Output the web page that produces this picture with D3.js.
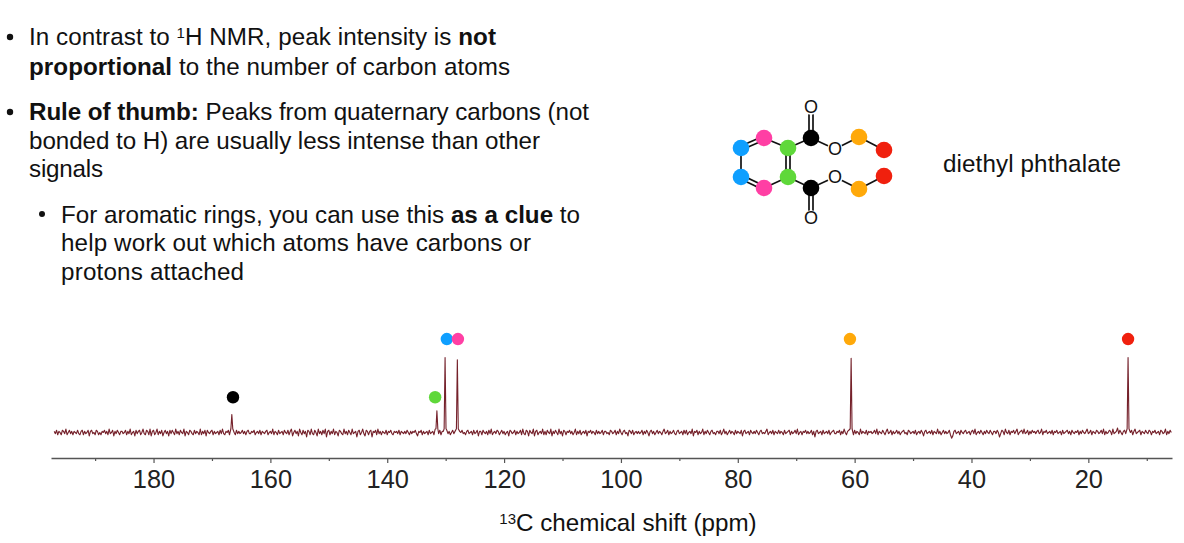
<!DOCTYPE html>
<html lang="en">
<head>
<meta charset="UTF-8">
<title>13C NMR - diethyl phthalate</title>
<script src="https://d3js.org/d3.v7.min.js"></script>
<style>
    html, body { margin: 0; padding: 0; background: #fff; }
    svg { display: block; font-family: "Liberation Sans", Arial, sans-serif; }
</style>
</head>
<body>
<svg id="chart" width="1184" height="543">
    <defs><filter id="soft"><feGaussianBlur stdDeviation="0.3"></feGaussianBlur></filter></defs>
</svg>
<script>
// Spectrum data
const majorTicks = [180, 160, 140, 120, 100, 80, 60, 40, 20];
const minorTicks = [190, 170, 150, 130, 110, 90, 70, 50, 30, 10];
const peakPpm = [166.6, 131.5, 130.1, 128.0, 60.6, 13.2];
const peakHeight = [24, 29, 100, 97, 99, 100];
const dotPpm = [166.4, 131.8, 129.8, 127.9, 60.8, 13.2];
const dotLevel = [47, 47, 124.6, 124.6, 124.6, 124.6];
const dotColors = ["#000000", "#5fd83a", "#0f9fff", "#ff3fa4", "#ffa90a", "#f0200e"];
const noiseStart = 197.0;
const noiseStep = 0.2;
const noiseUnit = 1.5; // one noise count in intensity units
const noise = [
    1, -1, 2, -2, 1, 0, -2, 2, 1, -1, 3, -2, 0, 2, -1, 1, -2, 1, 0, -1,
    2, -1, -2, 1, 2, -2, 1, -1, 0, 2, -3, 1, 2, -1, 0, -2, 2, 1, -2, 0,
    -2, 1, 0, 2, -1, 1, -2, 3, -1, 0, 2, -3, 1, -1, 2, 0, -2, 1, 1, -1,
    0, 2, -2, 1, -1, 3, -2, 0, 1, -3, 2, -1, 1, 2, -2, 0, 3, -1, -2, 2,
    1, -2, 3, -3, 1, 2, -2, 0, 3, -2, 1, -1, 2, -3, 0, 2, -1, 1, -3, 2,
    -1, 2, 0, -2, 3, -1, 1, -2, 2, 0, -1, 3, -3, 1, 0, -2, 2, 1, -1, -2,
    2, -1, 1, 0, -2, 3, -2, 1, -1, 2, -3, 2, 0, -1, 1, 2, -2, 1, -1, 0,
    1, -2, 2, -1, 3, -1, -2, 1, 0, 2, -2, 1, -1, 1, 0, -2, 2, -1, 1, -1,
    0, 2, -1, 1, -2, 1, 2, -1, -1, 1, 0, 2, -2, 0, 1, -1, 2, -2, 1, 0,
    -1, 1, 2, -2, 0, 1, -1, 3, -2, 1, 0, -2, 2, -1, 0, 1, -2, 2, 0, -1,
    2, -2, 1, 3, -3, 0, 2, -1, 1, -3, 3, 0, -2, 2, -1, 1, -4, 2, 1, -2,
    3, -1, -2, 2, 0, -3, 3, -1, 1, -2, 2, -1, 3, -4, 1, 2, -2, 1, -1, 3,
    -2, 1, 0, -3, 2, 1, -1, -2, 3, -1, 1, -2, 2, 0, -2, 3, -1, 0, 1, -4,
    1, 2, -2, 0, 3, -1, -3, 2, 1, -2, 1, 2, -4, 1, 0, 2, -2, 3, -1, 1,
    -2, 1, 0, -1, 2, -2, 1, 0, 2, -1, -2, 1, 0, 1, -1, 2, -2, 1, 0, -1,
    1, -1, 2, 0, -2, 1, -1, 1, 0, 2, -1, -3, 1, 0, 2, -2, 1, -1, 0, 1,
    -2, 2, -1, 0, 1, -2, 3, -1, 0, -1, 2, -2, 1, 1, -2, 0, 2, -1, 1, -2,
    0, 2, -1, 1, -1, 2, -3, 1, 0, 2, -1, 0, -2, 1, 2, -1, 0, 1, -2, 2,
    -1, 0, 2, -3, 1, 1, -2, 2, 0, -1, 1, -2, 2, -1, 3, -2, 0, 1, -1, 2,
    1, -2, 0, 2, -1, 1, -2, 0, 1, -3, 2, 1, -1, 0, 2, -2, 1, -1, 0, 2,
    -2, 3, -1, -2, 2, 1, -3, 2, 0, -1, 3, -3, 1, 2, -2, 0, 1, -1, 3, -2,
    1, -2, 2, 0, -1, 3, -3, 1, -1, 2, 0, -2, 3, -1, 1, -3, 2, 1, -2, 1,
    0, 2, -1, 1, -2, 0, 3, -2, 1, -1, 2, -2, 0, 1, -1, 2, -3, 1, 0, 2,
    -1, 1, 0, -2, 2, -1, 1, -1, 0, 2, -2, 1, 1, -1, 0, -2, 2, 1, -1, 0,
    2, -2, 1, -1, 3, 0, -2, 1, 2, -1, 0, -3, 2, 1, -1, 2, -2, 0, 1, -1,
    1, -1, 0, 2, -2, 1, -1, 2, 0, -3, 1, 2, -1, 1, -2, 0, 2, -1, 1, 0,
    -2, 1, 3, -1, 0, 2, -2, 1, -1, 0, 2, -1, -2, 1, 2, -1, 0, 1, -2, 2,
    -1, 2, -2, 0, 1, -1, 3, -3, 1, 0, 2, -2, 1, -1, 0, 3, -2, 1, -1, 2,
    0, -2, 1, 2, -1, 0, -2, 1, 1, -1, 2, -2, 0, 3, -1, 1, -2, 0, 2, -1,
    1, 0, -2, 2, -1, 1, 0, -1, 2, -3, 1, 2, -1, 0, 1, -2, 2, 0, -1, 1,
    -1, 2, 0, -2, 1, 2, -1, 0, -1, 1, 3, -2, 0, 1, -1, 2, -2, 1, 0, -1,
    2, -1, 1, 0, -2, 2, -1, 0, 1, 2, -2, 1, -1, 0, 2, -1, 3, -2, 0, 1,
    -2, 1, 0, 2, -1, 1, -1, 0, 2, -2, 1, -4, 1, 2, -1, 0, 1, -2, 2, -1,
    0, 1, -1, 2, -2, 0, 1, 2, -1, -1, 1, 0, 2, -2, 1, -1, 3, 0, -2, 1,
    2, -1, 0, 1, -2, 2, -1, 1, 0, -2, 3, -1, 1, 0, -1, 2, -2, 1, 0, 1,
    -1, 0, 2, -1, 3, -2, 1, 0, -1, 2, 0, -2, 1, 3, -1, 0, 2, -2, 1, -1,
    0, 2, -1, 1, -2, 0, 1, 2, -1, 0, -2, 2, 1, -1, 0, 1, -1, 2, -2, 0,
    1, -1, 2, 0, -3, 1, 2, -1, 0, 1, -1, 2, -2, 1, 0, -1, 3, -1, 1, -2,
    0, 2, -1, 1, -1, 0, 2, -2, -5, -3, 1, 2, -1, 0, 1, -2, 2, 0, -1, 1,
    2, -1, 0, 1, -2, 1, 2, -1, 3, -2, 0, 1, -1, 2, 0, -2, 1, -1, 2, 0,
    -1, 2, 0, -2, 1, 1, -1, 2, 0, -4, -1, 2, 1, -2, 3, 0, -1, 2, -2, 1,
    0, 2, -1, 1, 3, -2, 0, 1, 2, -1, 3, -1, 0, 2, -2, 1, -1, 2, 0, 1,
    -1, 1, 2, -1, 0, 3, -2, 1, 0, 2, -1, 0, 1, -1, 2, -2, 1, 0, 2, -1,
    0, 1, -2, 2, -1, 0, 1, 2, -1, 1, -2, 2, 0, -1, 1, 0, 2, -2, 1, -1,
    2, 0, -1, 1, 3, -1, 0, 2, -2, 1, 0, -1, 2, 1, -1, 0, 2, -1, 3, -2,
    1, -1, 0, 2, 1, -2, 3, -1, 0, 1, 4, -1, 2, 0, -2, 1, 2, -1, 0, 3,
    -1, 0, 2, -2, 1, 3, -1, 0, 1, 2, -2, 1, 0, -1, 2, 0, -1, 2, 1, -2,
    1, 0, 2, -1, 0, 1, -2, 2, 1, -1, 0, 3, -2, 1, -1, 2, 0, -1, 1, -2,
    2, 1, -1, 0, 2, -1
];

// Molecule drawn on the 190x140 crop it sits in
const atomNames = ["b1", "p1", "g1", "k1", "o1", "y1", "r1", "b2", "p2", "g2", "k2", "o2", "y2", "r2", "ot", "ob"];
const atomX = [21, 44, 68, 91, 115, 139, 164, 21, 44, 68, 91, 115, 139, 164, 91, 91];
const atomY = [58, 48, 58, 48, 59, 47, 60, 87, 98, 87, 98, 87, 99, 86, 17, 128];
const atomColors = ["#0f9fff", "#ff3fa4", "#5fd83a", "#000000", null, "#ffa90a", "#f0200e",
    "#0f9fff", "#ff3fa4", "#5fd83a", "#000000", null, "#ffa90a", "#f0200e", null, null];
const singleBonds = [["b1", "b2"], ["p1", "g1"], ["p2", "g2"], ["g1", "k1"], ["g2", "k2"], ["k1", "o1"], ["k2", "o2"],
    ["o1", "y1"], ["o2", "y2"], ["y1", "r1"], ["y2", "r2"]];
const doubleBonds = [["b1", "p1"], ["b2", "p2"], ["g1", "g2"], ["k1", "ot"], ["k2", "ob"]];

const svg = d3.select("#chart");
const textColor = "#111";

// Text block, w is the line's width in the picture
const fontSize = 24.2;
const lines = [
    { x: 29, y: 45, w: 467, parts: [["In contrast to "], ["1", "sup"], ["H NMR, peak intensity is "], ["not", "b"]] },
    { x: 29, y: 75, w: 481, parts: [["proportional", "b"], [" to the number of carbon atoms"]] },
    { x: 29, y: 120, w: 560, parts: [["Rule of thumb:", "b"], [" Peaks from quaternary carbons (not"]] },
    { x: 29, y: 149, w: 511, parts: [["bonded to H) are usually less intense than other"]] },
    { x: 29, y: 177, w: 74, parts: [["signals"]] },
    { x: 61, y: 223, w: 519, parts: [["For aromatic rings, you can use this "], ["as a clue", "b"], [" to"]] },
    { x: 61, y: 251, w: 470, parts: [["help work out which atoms have carbons or"]] },
    { x: 61, y: 280, w: 183, parts: [["protons attached"]] },
    { x: 943, y: 172, w: 178, parts: [["diethyl phthalate"]] }
];

function addParts(sel, parts) {
    let raise = false;
    parts.forEach(p => {
        const t = sel.append("tspan").text(p[0]);
        if (p[1] === "b") t.attr("font-weight", "bold");
        if (p[1] === "sup") {
            t.attr("font-size", fontSize * 0.62).attr("dy", -7);
            raise = true;
        } else if (raise) {
            t.attr("dy", 7);
            raise = false;
        }
    });
}

lines.forEach(l => {
    const t = svg.append("text").attr("x", l.x).attr("y", l.y)
        .attr("font-size", fontSize).attr("fill", textColor)
        .attr("textLength", l.w).attr("lengthAdjust", "spacing");
    addParts(t, l.parts);
});

svg.selectAll("circle.bullet")
    .data([[10, 37, 3.2], [10, 112, 3.2], [42, 214, 3]])
    .join("circle")
    .attr("class", "bullet")
    .attr("cx", d => d[0]).attr("cy", d => d[1]).attr("r", d => d[2])
    .attr("fill", textColor);

// Molecule
const molX = d3.scaleLinear().domain([0, 190]).range([720, 910]);
const molY = d3.scaleLinear().domain([0, 140]).range([90, 230]);
const atoms = new Map(atomNames.map((n, i) => [n, { x: molX(atomX[i]), y: molY(atomY[i]), color: atomColors[i] }]));
const mol = svg.append("g");

function bond(a, b, off) {
    const p = atoms.get(a), q = atoms.get(b);
    const len = Math.hypot(q.x - p.x, q.y - p.y);
    const ox = -(q.y - p.y) / len * off, oy = (q.x - p.x) / len * off;
    mol.append("line")
        .attr("x1", p.x + ox).attr("y1", p.y + oy)
        .attr("x2", q.x + ox).attr("y2", q.y + oy)
        .attr("stroke", "#111").attr("stroke-width", 1.7);
}
singleBonds.forEach(b => bond(b[0], b[1], 0));
doubleBonds.forEach(b => { bond(b[0], b[1], 2); bond(b[0], b[1], -2); });

atoms.forEach(a => {
    if (a.color) {
        mol.append("circle").attr("cx", a.x).attr("cy", a.y).attr("r", 8.3).attr("fill", a.color);
    } else {
        mol.append("circle").attr("cx", a.x).attr("cy", a.y).attr("r", 7.8).attr("fill", "#fff");
        mol.append("text").attr("x", a.x).attr("y", a.y + 6.4)
            .attr("text-anchor", "middle").attr("font-size", 18).attr("fill", textColor).text("O");
    }
});

// Spectrum
const x = d3.scaleLinear().domain([197.55, 5.68]).range([51, 1172]);
const y = d3.scaleLinear().domain([0, 100]).range([432.5, 357.5]);

const footWidth = 0.16;
const points = noise.map((v, i) => ({ ppm: noiseStart - i * noiseStep, v: v * noiseUnit }))
    .filter(p => p.ppm >= x.domain()[1] && !peakPpm.some(c => Math.abs(c - p.ppm) < footWidth * 1.5));
peakPpm.forEach((c, i) => {
    points.push({ ppm: c + footWidth, v: 5 }, { ppm: c, v: peakHeight[i] }, { ppm: c - footWidth, v: 5 });
});
points.sort((a, b) => b.ppm - a.ppm);

const line = d3.line().x(d => x(d.ppm)).y(d => y(d.v));
svg.append("path")
    .datum(points)
    .attr("d", line)
    .attr("fill", "none")
    .attr("stroke", "#74202a")
    .attr("stroke-width", 1.1)
    .attr("stroke-linejoin", "round")
    .attr("filter", "url(#soft)");

svg.selectAll("circle.dot")
    .data(dotPpm)
    .join("circle")
    .attr("class", "dot")
    .attr("cx", d => x(d))
    .attr("cy", (d, i) => y(dotLevel[i]))
    .attr("r", 6.2)
    .attr("fill", (d, i) => dotColors[i]);

// Axis
const axisY = 458;
const minorAxis = svg.append("g")
    .attr("transform", `translate(0,${axisY})`)
    .call(d3.axisBottom(x).tickValues(minorTicks).tickSize(3).tickFormat(""));
const axis = svg.append("g")
    .attr("transform", `translate(0,${axisY})`)
    .call(d3.axisBottom(x).tickValues(majorTicks).tickSize(5).tickSizeOuter(0).tickPadding(7));
minorAxis.select(".domain").remove();
axis.select(".domain").attr("stroke", "#555").attr("stroke-width", 1.5);
svg.selectAll(".tick line").attr("stroke", "#555").attr("stroke-width", 1.2);
axis.selectAll("text")
    .attr("font-size", 25.4)
    .attr("font-family", "'Liberation Sans', Arial, sans-serif")
    .attr("fill", "#222");

const xTitle = svg.append("text")
    .attr("x", 628).attr("y", 531)
    .attr("text-anchor", "middle")
    .attr("font-size", 24.2).attr("fill", textColor);
xTitle.append("tspan").attr("font-size", 24.2 * 0.62).attr("dy", -7).text("13");
xTitle.append("tspan").attr("dy", 7).text("C chemical shift (ppm)");
</script>
</body>
</html>
